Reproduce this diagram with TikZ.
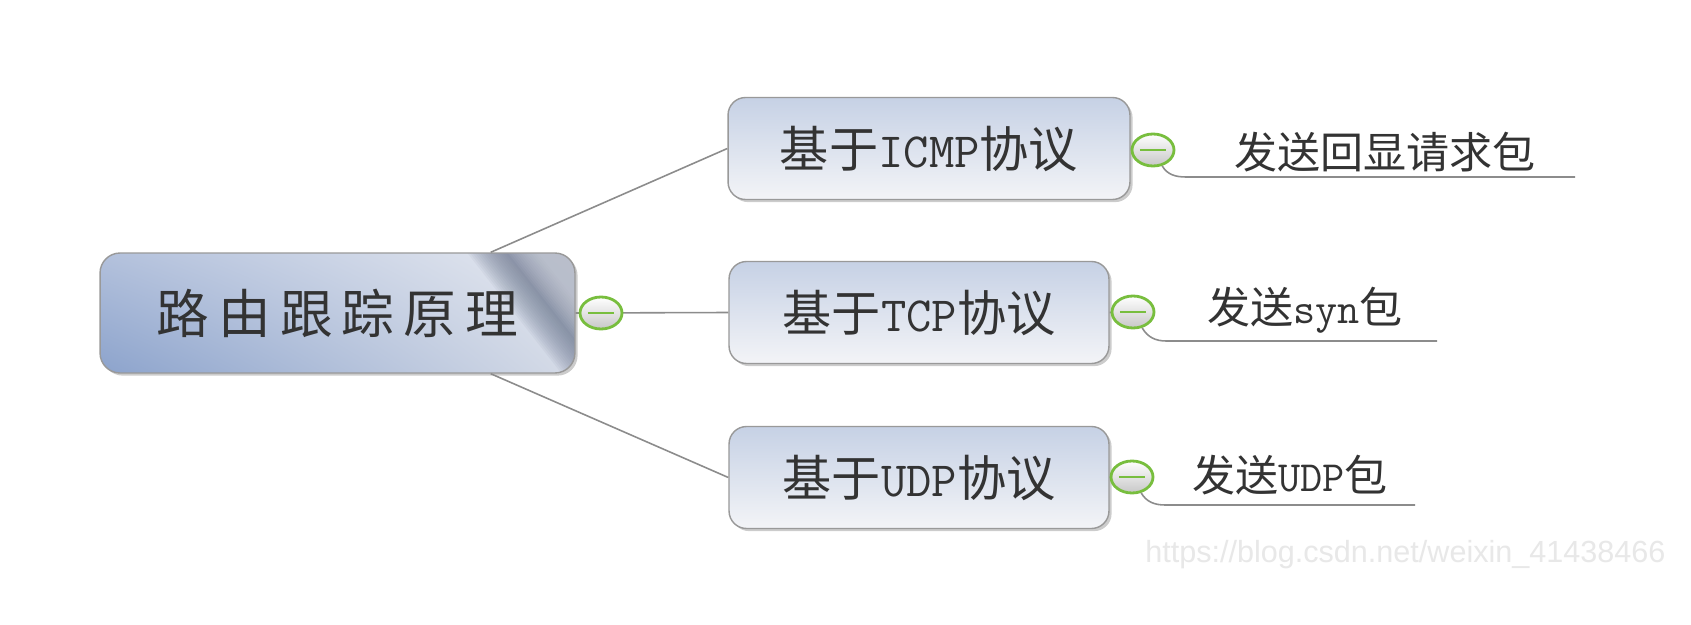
\documentclass[tikz,border=0pt]{standalone}
\usepackage{fontspec}
\newfontfamily\cjk{Noto Sans CJK SC}
\newfontfamily\urlfont{Liberation Sans}
\usetikzlibrary{shapes.geometric,shadows,shadings,calc}
\usepackage{xcolor}
\definecolor{rootLL}{HTML}{8CA3CC}
\definecolor{rootUL}{HTML}{B3C1DC}
\definecolor{rootUR}{HTML}{E6E9F0}
\definecolor{rootLR}{HTML}{D5DBE7}
\definecolor{rootDark}{HTML}{6F7A92}
\definecolor{boxTop}{HTML}{C6D1E5}
\definecolor{boxBot}{HTML}{F3F4F7}
\definecolor{boxLine}{HTML}{999999}
\definecolor{linkGray}{HTML}{8C8C8C}
\definecolor{markGreen}{HTML}{78BE3E}
\definecolor{txtGray}{HTML}{333333}
\newcommand{\lat}[1]{{\ttfamily #1}}

\begin{document}
\begin{tikzpicture}[x=0.02cm, y=0.02cm,
  rootbox/.style={draw=boxLine, line width=0.8pt, rounded corners=0.4cm,
    minimum width=9.5cm, minimum height=2.4cm,
    lower left=rootLL, upper left=rootUL, upper right=rootUR, lower right=rootLR,
    drop shadow={shadow xshift=1.5pt, shadow yshift=-1.5pt, opacity=0.2, fill=black},
    font=\cjk\fontsize{30pt}{36pt}\selectfont\addfontfeature{LetterSpace=17}, text=txtGray,
    path picture={
      % glossy band in the upper right corner
      \foreach \d in {-32,-30,...,-2}
        \fill[sharp corners, rootDark, opacity=0.075] ([xshift=-1.34cm]path picture bounding box.north east) ++(38:\d) ++(-52:-150) -- ++(-52:300) -- ++(38:120) -- ++(-52:-300) -- cycle;
      \foreach \d in {0,2,...,24}
        \fill[sharp corners, rootUR, opacity=0.06] ([xshift=-1.34cm]path picture bounding box.north east) ++(38:\d) ++(-52:-150) -- ++(-52:300) -- ++(38:120) -- ++(-52:-300) -- cycle;
    }},
  topicbox/.style={draw=boxLine, line width=0.8pt, rounded corners=0.35cm,
    minimum height=2.04cm, top color=boxTop, bottom color=boxBot,
    drop shadow={shadow xshift=1.5pt, shadow yshift=-1.5pt, opacity=0.2, fill=black},
    font=\cjk\fontsize{28pt}{34pt}\selectfont, text=txtGray},
  foldmark/.style={ellipse, draw=markGreen, line width=1.6pt, inner sep=0pt,
    minimum width=0.84cm, minimum height=0.64cm, top color=white, bottom color=black!22,
    path picture={\draw[markGreen, line width=1.5pt] ([xshift=-7.5pt]path picture bounding box.center) -- ([xshift=7.5pt]path picture bounding box.center);}},
  leaftext/.style={font=\cjk\fontsize{24.5pt}{30pt}\selectfont, text=txtGray, inner sep=0pt},
  link/.style={draw=linkGray, line width=0.9pt}]

\useasboundingbox[fill=white] (0,0) rectangle (1691,-625);

% main topic and its three branches
\node[rootbox] (root) at (337.5,-313) {路由跟踪原理};
\node[topicbox, minimum width=8.04cm] (icmp) at (929,-148.5) {基于\lat{ICMP}协议};
\node[topicbox, minimum width=7.6cm] (tcp) at (919,-312.5) {基于\lat{TCP}协议};
\node[topicbox, minimum width=7.6cm] (udp) at (919,-477.5) {基于\lat{UDP}协议};

% leaves
\node[leaftext] (icmpleaf) at (1385,-152) {发送回显请求包};
\node[leaftext] (tcpleaf) at (1305,-310) {发送\lat{syn}包};
\node[leaftext] (udpleaf) at (1290,-475) {发送\lat{UDP}包};
\coordinate (icmpend) at (1575,-177);
\coordinate (tcpend) at (1437,-341);
\coordinate (udpend) at (1415,-505);

% connectors
\draw[link] ([xshift=-1.7cm]root.north east) -- (icmp.west);
\draw[link] ([xshift=-1.7cm]root.south east) -- (udp.west);
\draw[link] (root.east) -- (tcp.west);
\draw[link] (icmp.east) -- (1153,-150);
\draw[link] (tcp.east) -- (1133,-312);
\draw[link] (udp.east) -- (1132,-477);

% fold marks
\node[foldmark] (rootc) at (601,-313) {};
\node[foldmark] (icmpc) at (1153,-150) {};
\node[foldmark] (tcpc) at (1133,-312) {};
\node[foldmark] (udpc) at (1132,-477) {};

\draw[link] (icmpc.-60) to[out=-60, in=180] ($(icmpc.-60 |- icmpend)+(24,0)$) -- (icmpend);
\draw[link] (tcpc.-60) to[out=-60, in=180] ($(tcpc.-60 |- tcpend)+(24,0)$) -- (tcpend);
\draw[link] (udpc.-60) to[out=-60, in=180] ($(udpc.-60 |- udpend)+(24,0)$) -- (udpend);

\node[anchor=base west, inner sep=0pt, font=\urlfont\fontsize{17.4pt}{20pt}\selectfont, text=black!9] (mark) at (1145,-562) {https://blog.csdn.net/weixin\_41438466};
\end{tikzpicture}
\end{document}
